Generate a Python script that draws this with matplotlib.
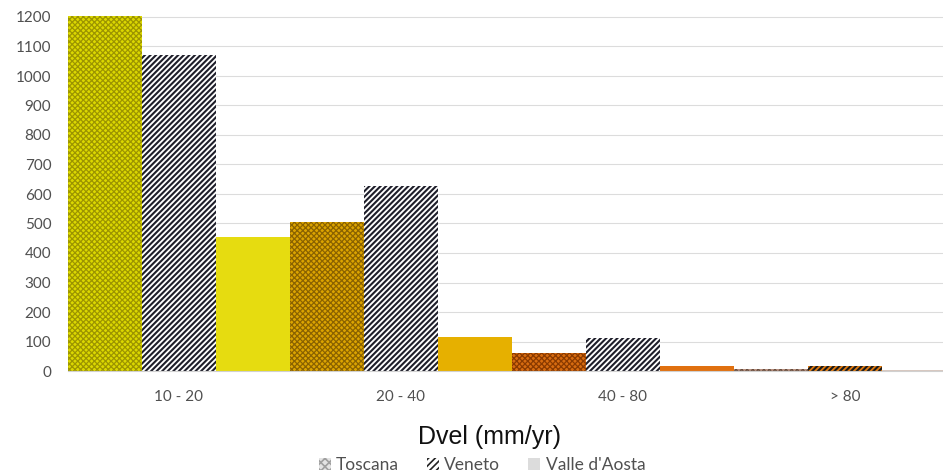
import matplotlib
matplotlib.use("Agg")
import matplotlib.pyplot as plt
from matplotlib.patches import Patch

categories = ['10 - 20', '20 - 40', '40 - 80', '> 80']
series = ['Toscana', 'Veneto', "Valle d'Aosta"]
toscana = [1205, 505, 60, 6]
veneto = [1070, 627, 112, 17]
valle = [453, 116, 17, 3]
yticks = list(range(0, 1300, 100))

# colours per category group
tosc_face = ['#dcd800', '#dca400', '#d86c10', '#b89080']
tosc_hatch = ['#9c9400', '#8a6200', '#8a3a00', '#6a5040']
ven_face = ['#ffffff', '#ffffff', '#ffffff', '#e07a10']
ven_hatch = ['#1e1e2a', '#1e1e2a', '#1e1e2a', '#1a1a1a']
valle_face = ['#e6dc10', '#e6b000', '#e07010', '#d8c8c0']

plt.rcParams['font.family'] = ['Lato', 'DejaVu Sans']

fig = plt.figure(figsize=(9.43, 4.73), dpi=100)
ax = fig.add_axes([68 / 943, 102 / 473, 888 / 943, 368.75 / 473])

n = len(categories)
for i in range(n):
    base = 3 * i
    plt.rcParams['hatch.linewidth'] = 0.9
    ax.bar(base, toscana[i], width=1.0, color=tosc_face[i], edgecolor=tosc_hatch[i],
           hatch='xxxxxx', linewidth=0, zorder=2)
    plt.rcParams['hatch.linewidth'] = 1.5
    ax.bar(base + 1, veneto[i], width=1.0, color=ven_face[i], edgecolor=ven_hatch[i],
           hatch='//////', linewidth=0, zorder=2)
    ax.bar(base + 2, valle[i], width=1.0, color=valle_face[i], linewidth=0, zorder=2)

ax.set_xlim(-0.5, 3 * n - 0.5)
ax.set_ylim(0, 1250)
ax.set_yticks(yticks)
ax.set_xticks([3 * i + 1 for i in range(n)])
ax.set_xticklabels(categories)
ax.tick_params(axis='both', length=0, labelsize=11, colors='#505050')
ax.tick_params(axis='x', pad=14)
ax.tick_params(axis='y', pad=12)
ax.yaxis.grid(True, color='#dcdcdc', linewidth=0.8, zorder=0)
ax.set_axisbelow(True)
for s in ['top', 'right', 'left']:
    ax.spines[s].set_visible(False)
ax.spines['bottom'].set_color('#d0d0d0')

fig.text(490 / 943, 1 - 437 / 473, 'Dvel (mm/yr)', ha='center', va='center',
         fontsize=18, family=['Liberation Sans'], color='#111111')

plt.rcParams['hatch.linewidth'] = 1.2
handles = [
    Patch(facecolor='#e4e4e4', edgecolor='#a0a0a0', hatch='xxxx', linewidth=0),
    Patch(facecolor='#ffffff', edgecolor='#222222', hatch='/////', linewidth=0),
    Patch(facecolor='#dcdcdc', linewidth=0),
]
fig.legend(handles, series, loc='center', bbox_to_anchor=(482 / 943, 1 - 465 / 473),
           ncol=3, frameon=False, fontsize=12.5, labelcolor='#505050',
           handlelength=0.7, handleheight=0.7, handletextpad=0.3, columnspacing=1.6)

fig.savefig('out.png', dpi=100)
